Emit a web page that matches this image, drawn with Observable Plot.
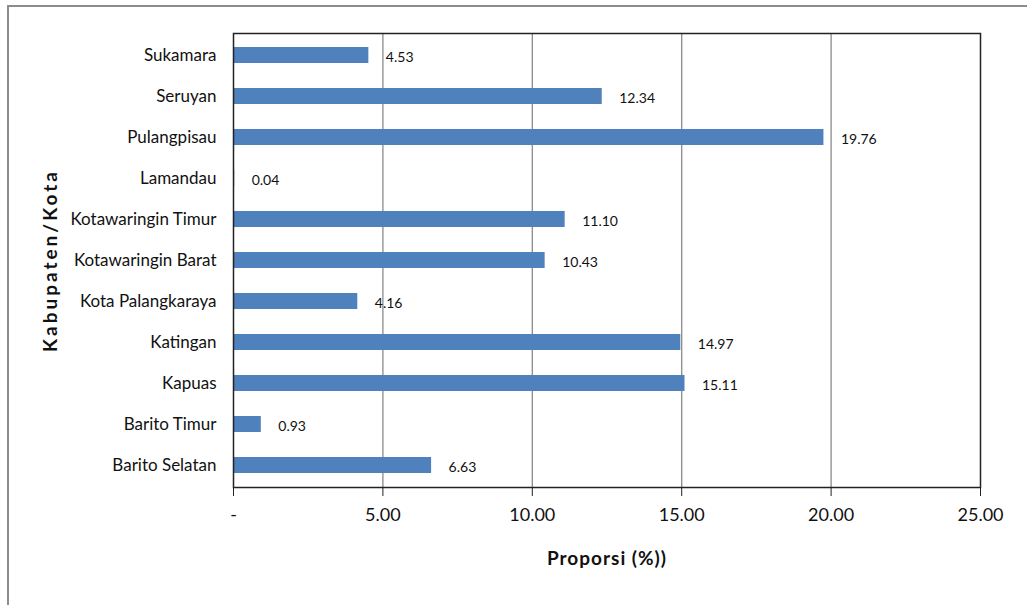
<!DOCTYPE html>
<html>
<head>
<meta charset="utf-8">
<script src="https://cdn.jsdelivr.net/npm/d3@7"></script>
<script src="https://cdn.jsdelivr.net/npm/@observablehq/plot@0.6"></script>
<style>
  html, body { margin: 0; padding: 0; background: #fff; }
  #wrap { position: relative; width: 1027px; height: 605px; overflow: hidden; }
  #border { position: absolute; left: 7px; top: 5px; width: 1030px; height: 610px;
            border-top: 2px solid #8c8c8c; border-left: 2px solid #8c8c8c; pointer-events: none; }
  svg { font-family: Lato, "Open Sans", sans-serif; }
</style>
</head>
<body>
<div id="wrap"><div id="border"></div></div>
<script>
const categories = ["Sukamara", "Seruyan", "Pulangpisau", "Lamandau", "Kotawaringin Timur",
  "Kotawaringin Barat", "Kota Palangkaraya", "Katingan", "Kapuas", "Barito Timur", "Barito Selatan"];
const values = [4.53, 12.34, 19.76, 0.04, 11.10, 10.43, 4.16, 14.97, 15.11, 0.93, 6.63];
const xTicks = [0, 5, 10, 15, 20, 25];
const gridValues = [5, 10, 15, 20];
const xTitle = "Proporsi (%))";
const yTitle = "Kabupaten/Kota";

const data = categories.map((c, i) => ({category: c, value: values[i]}));

const chart = Plot.plot({
  width: 1027,
  height: 605,
  marginLeft: 233,
  marginRight: 47,
  marginTop: 33,
  marginBottom: 118,
  style: {fontFamily: "Lato, 'Open Sans', sans-serif", color: "#111", background: "transparent"},
  x: {domain: [0, 25], ticks: xTicks, label: null},
  y: {domain: categories, paddingInner: 0.61, paddingOuter: 0.34, label: null},
  marks: [
    Plot.ruleX(gridValues, {stroke: "#8a8a8a", strokeWidth: 1.3}),
    Plot.barX(data, {y: "category", x: "value", fill: "#4F81BD"}),
    Plot.text(data, {y: "category", x: "value", text: d => d.value.toFixed(2), textAnchor: "start",
      dx: 17, dy: 2, fontSize: 14, fill: "#111"}),
    Plot.frame({stroke: "#222", strokeWidth: 1.5}),
    Plot.axisX(xTicks, {tickSize: 9, tickPadding: 12, fontSize: 18, stroke: "#222",
      tickFormat: d => d === 0 ? "-" : d.toFixed(2), label: null}),
    Plot.axisY({tickSize: 0, tickPadding: 17, fontSize: 17, label: null}),
    Plot.text([xTitle], {frameAnchor: "bottom", dy: 71, fontSize: 19, fontWeight: "bold", fill: "#111",
      textAnchor: "middle", lineAnchor: "middle"}),
    Plot.text([yTitle], {frameAnchor: "left", dx: -183, rotate: -90, fontSize: 19, fontWeight: "bold", fill: "#111",
      textAnchor: "middle", lineAnchor: "middle"})
  ]
});
chart.querySelectorAll("text").forEach(t => {
  if (t.textContent === xTitle) t.style.letterSpacing = "1px";
  if (t.textContent === yTitle) t.style.letterSpacing = "3px";
});
document.getElementById("wrap").prepend(chart);
</script>
</body>
</html>
